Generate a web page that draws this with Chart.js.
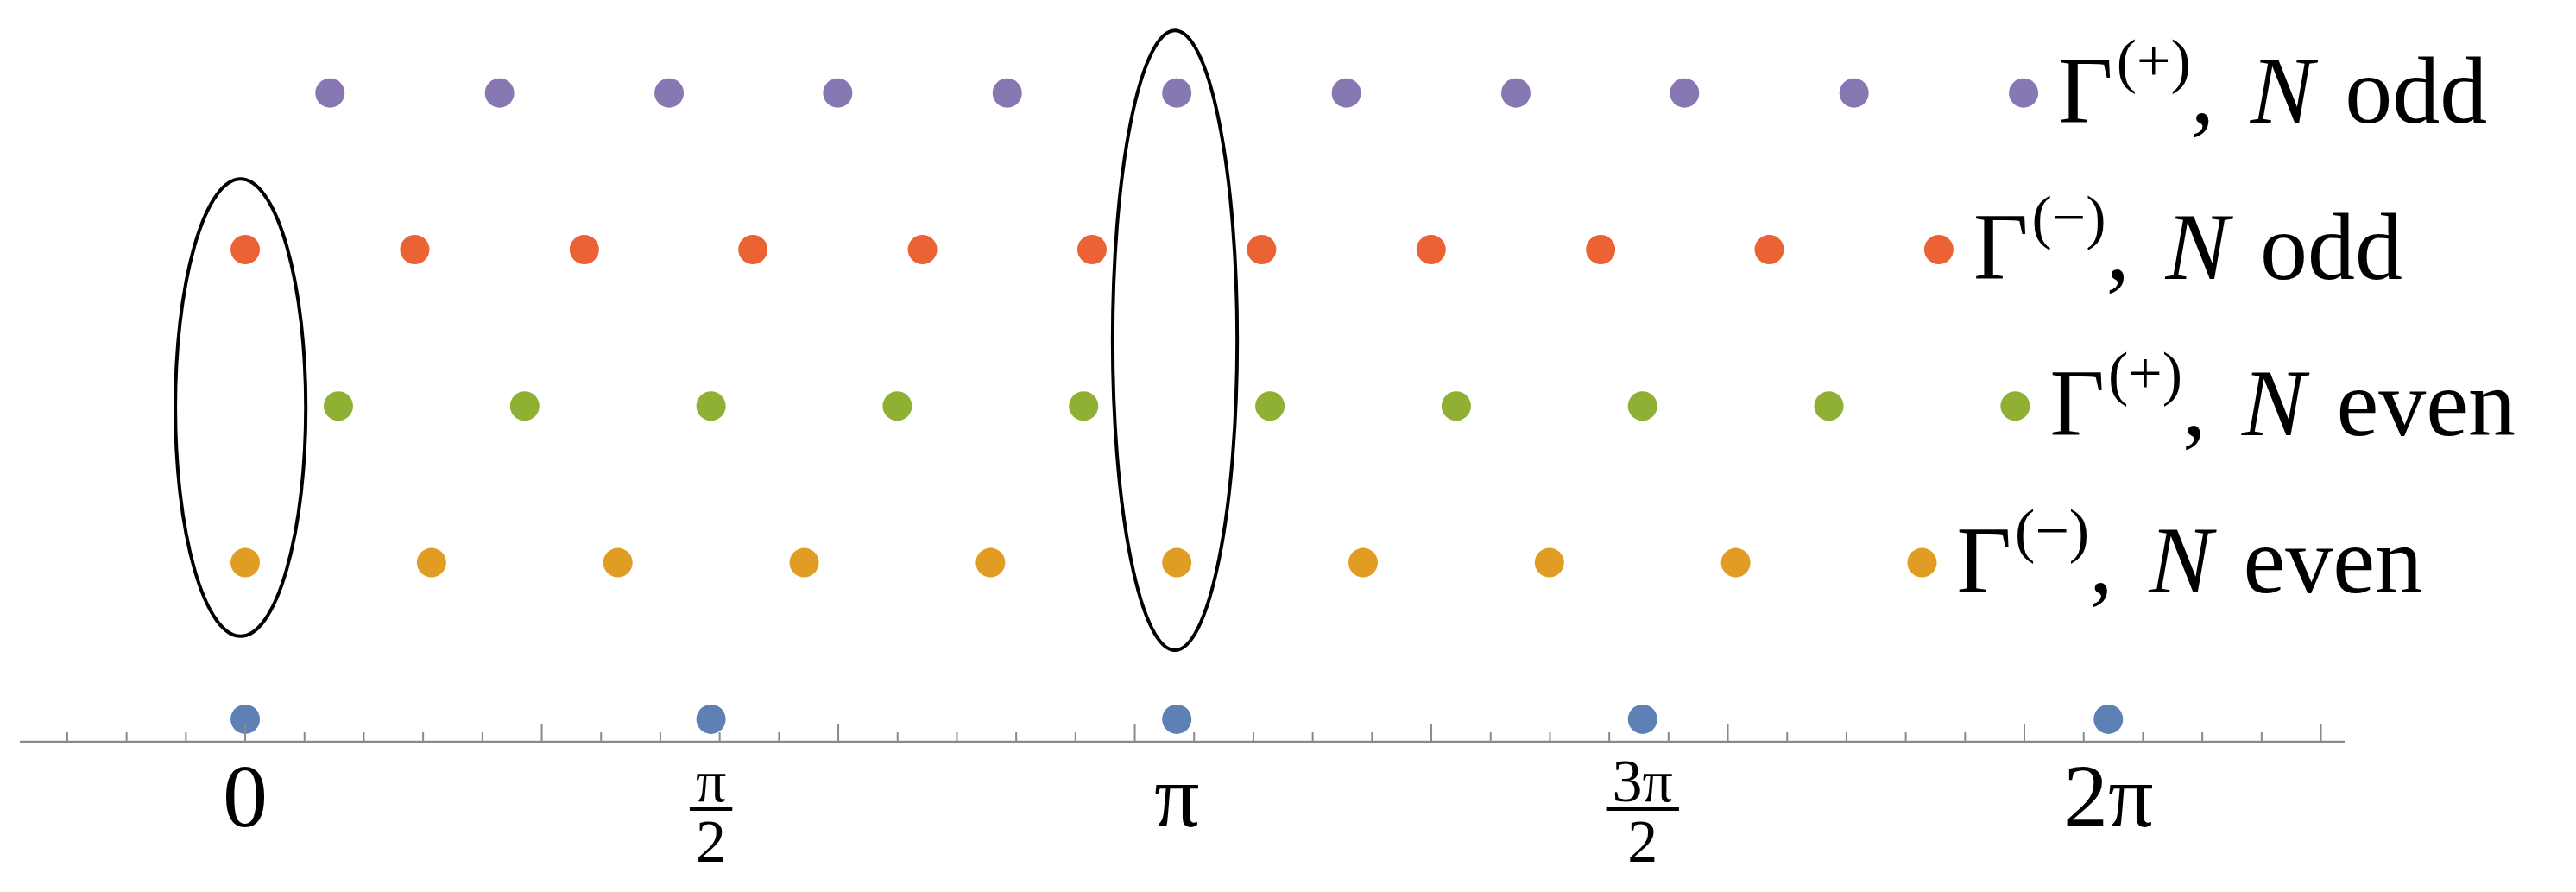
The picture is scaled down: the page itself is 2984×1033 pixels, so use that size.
<!DOCTYPE html>
<html>
<head>
<meta charset="utf-8">
<script src="https://cdn.jsdelivr.net/npm/chart.js@4"></script>
<style>
  html, body { margin: 0; padding: 0; background: #fff; }
  #wrap { width: 2984px; height: 1033px; }
</style>
</head>
<body>
<div id="wrap"><canvas id="chart" width="2984" height="1033"></canvas></div>
<script>
// x positions in units of pi
const plusOddX   = [0.091, 0.273, 0.455, 0.636, 0.818, 1.0, 1.182, 1.364, 1.545, 1.727, 1.909];
const minusOddX  = [0, 0.182, 0.364, 0.545, 0.727, 0.909, 1.091, 1.273, 1.455, 1.636, 1.818];
const plusEvenX  = [0.1, 0.3, 0.5, 0.7, 0.9, 1.1, 1.3, 1.5, 1.7, 1.9];
const minusEvenX = [0, 0.2, 0.4, 0.6, 0.8, 1.0, 1.2, 1.4, 1.6, 1.8];
const baseX      = [0, 0.5, 1, 1.5, 2];

const rowY = { plusOdd: 4, minusOdd: 3, plusEven: 2, minusEven: 1, base: 0 };

const seriesNames = [
    { sign: '+', parity: 'odd' },
    { sign: '\u2212', parity: 'odd' },
    { sign: '+', parity: 'even' },
    { sign: '\u2212', parity: 'even' }
];
const colors = ['#8778B3', '#EB6235', '#8FB032', '#E19C24', '#5E81B5'];

// tick labels (units of pi)
const tickLabelX = [0, 0.5, 1, 1.5, 2];
const tickLabels = [['0'], ['\u03C0', '2'], ['\u03C0'], ['3\u03C0', '2'], ['2\u03C0']];

// ellipses: [centre x (pi), centre y, half width (rad), half height]
const ellipses = [[-0.005, 1.99, 0.22, 1.46], [0.998, 2.42, 0.21, 1.98]];

const toPts = (xs, y) => xs.map(v => ({ x: v * Math.PI, y }));

const rows = [
    toPts(plusOddX, rowY.plusOdd),
    toPts(minusOddX, rowY.minusOdd),
    toPts(plusEvenX, rowY.plusEven),
    toPts(minusEvenX, rowY.minusEven),
    toPts(baseX, rowY.base)
];

const SERIF = '"Liberation Serif", "DejaVu Serif", serif';

const decorPlugin = {
    id: 'decor',
    afterDatasetsDraw(chart) {
        const ctx = chart.ctx;
        const xs = chart.scales.x, ys = chart.scales.y;
        const axisY = ys.getPixelForValue(ys.min);
        ctx.save();

        // axis line and ticks
        ctx.strokeStyle = '#8a8a8a';
        ctx.lineWidth = 2.5;
        ctx.beginPath();
        ctx.moveTo(chart.chartArea.left, axisY);
        ctx.lineTo(chart.chartArea.right, axisY);
        ctx.stroke();
        ctx.lineWidth = 2;
        for (let i = -3; i <= 35; i++) {
            const v = i * 0.2;
            const px = xs.getPixelForValue(v);
            const len = i % 5 === 0 ? 21 : 11;
            ctx.beginPath();
            ctx.moveTo(px, axisY);
            ctx.lineTo(px, axisY - len);
            ctx.stroke();
        }

        // tick labels
        ctx.fillStyle = '#000';
        ctx.textAlign = 'center';
        ctx.textBaseline = 'alphabetic';
        tickLabelX.forEach((v, i) => {
            const px = xs.getPixelForValue(v * Math.PI);
            const lab = tickLabels[i];
            if (lab.length === 1) {
                ctx.font = '104px ' + SERIF;
                ctx.fillText(lab[0], px, 957);
            } else {
                ctx.font = '70px ' + SERIF;
                ctx.fillText(lab[0], px, 928);
                ctx.fillText(lab[1], px, 998);
                const w = ctx.measureText(lab[0]).width + 14;
                ctx.fillRect(px - w / 2, 935, w, 4);
            }
        });

        // ellipses
        ctx.strokeStyle = '#000';
        ctx.lineWidth = 4;
        ellipses.forEach(e => {
            const cx = xs.getPixelForValue(e[0] * Math.PI);
            const cy = ys.getPixelForValue(e[1]);
            const rx = Math.abs(xs.getPixelForValue(e[2]) - xs.getPixelForValue(0));
            const ry = Math.abs(ys.getPixelForValue(e[3]) - ys.getPixelForValue(0));
            ctx.beginPath();
            ctx.ellipse(cx, cy, rx, ry, 0, 0, Math.PI * 2);
            ctx.stroke();
        });

        // series labels next to the last point of each row
        ctx.textAlign = 'left';
        seriesNames.forEach((s, i) => {
            const last = rows[i][rows[i].length - 1];
            let x = xs.getPixelForValue(last.x) + 40;
            const y = ys.getPixelForValue(last.y) + 34;
            ctx.font = '110px ' + SERIF;
            ctx.fillText('\u0393', x, y);
            x += ctx.measureText('\u0393').width + 4;
            ctx.font = '70px ' + SERIF;
            const sup = '(' + s.sign + ')';
            ctx.fillText(sup, x, y - 48);
            x += ctx.measureText(sup).width;
            ctx.font = '110px ' + SERIF;
            ctx.fillText(', ', x, y);
            x += ctx.measureText(', ').width + 14;
            ctx.font = 'italic 110px ' + SERIF;
            ctx.fillText('N', x, y);
            x += ctx.measureText('N').width + 36;
            ctx.font = '110px ' + SERIF;
            ctx.fillText(s.parity, x, y);
        });
        ctx.restore();
    }
};

new Chart(document.getElementById('chart').getContext('2d'), {
    type: 'scatter',
    data: {
        datasets: rows.map((pts, i) => ({
            data: pts,
            backgroundColor: colors[i],
            borderWidth: 0,
            pointRadius: 17
        }))
    },
    options: {
        responsive: false,
        animation: false,
        layout: { padding: { left: 23, right: 268, top: 0, bottom: 174 } },
        plugins: { legend: { display: false }, tooltip: { enabled: false } },
        scales: {
            x: { type: 'linear', min: -0.76, max: 7.08, display: false },
            y: { type: 'linear', min: -0.144, max: 4.50, display: false }
        }
    },
    plugins: [decorPlugin]
});
</script>
</body>
</html>
